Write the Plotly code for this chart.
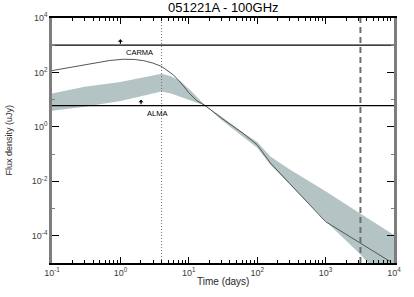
import numpy as np
import plotly.graph_objects as go

title = "051221A - 100GHz"
x_title = "Time (days)"
y_title = "Flux density (uJy)"

# model light curve (days, uJy)
model_t = [0.1, 0.2, 0.4, 0.7, 1.1, 1.6, 2.2, 3.0, 4.0, 5.0, 6.0, 7.5, 10.0, 13.0, 17.5, 30.0, 60.0, 100.0, 156.0, 300.0, 600.0, 1000.0, 3000.0, 8850.0]
model_f = [117, 160, 220, 275, 305, 300, 270, 220, 166, 115, 80, 44, 18, 9.3, 6.0, 2.1, 0.62, 0.22, 0.047, 0.0082, 0.0013, 0.00033, 0.00006, 0.0000112]

# uncertainty band
band_t = [0.1, 0.3, 1.0, 2.0, 4.0, 5.5, 7.6, 11.0, 17.5, 30.0, 60.0, 100.0, 156.0, 300.0, 1000.0, 3000.0, 10000.0]
band_hi = [17.0, 30.0, 45.0, 65.0, 90.0, 72.0, 47.0, 20.0, 6.0, 2.4, 0.65, 0.28, 0.081, 0.027, 0.0043, 0.00073, 0.000107]
band_lo = [3.9, 5.5, 9.0, 13.0, 20.0, 17.0, 13.0, 9.0, 6.0, 1.8, 0.45, 0.17, 0.041, 0.0080, 0.00035, 0.000025, 0.000001]

# instrument sensitivity limits
limit_names = ["CARMA", "ALMA"]
limit_flux = [1000.0, 6.0]
limit_arrow_t = [1.0, 2.0]

t_dotted = 4.0
t_dashed = 3230.0

x_major = [0.1, 1, 10, 100, 1000, 10000]
x_major_text = ["10<sup>-1</sup>", "10<sup>0</sup>", "10<sup>1</sup>", "10<sup>2</sup>", "10<sup>3</sup>", "10<sup>4</sup>"]
y_major = [1e4, 1e2, 1e0, 1e-2, 1e-4]
y_major_text = ["10<sup>4</sup>", "10<sup>2</sup>", "10<sup>0</sup>", "10<sup>-2</sup>", "10<sup>-4</sup>"]
y_minor = [1e3, 1e1, 1e-1, 1e-3]

FONT = "Liberation Sans, Arial, sans-serif"
BAND = "rgb(180,196,196)"
LINE = "rgb(85,85,85)"

fig = go.Figure()

fig.add_trace(go.Scatter(
    x=band_t + band_t[::-1], y=band_hi + band_lo[::-1],
    fill="toself", fillcolor=BAND, line=dict(width=0), mode="lines",
    hoverinfo="skip", showlegend=False))

fig.add_trace(go.Scatter(
    x=model_t, y=model_f, mode="lines",
    line=dict(color=LINE, width=1), showlegend=False))

for f in limit_flux:
    fig.add_trace(go.Scatter(x=[0.1, 10000], y=[f, f], mode="lines",
                             line=dict(color="black", width=1.2), showlegend=False))

fig.add_trace(go.Scatter(x=[t_dotted, t_dotted], y=[1e-5, 1e4], mode="lines",
                         line=dict(color="rgb(110,110,110)", width=1, dash="1px,2px"), showlegend=False))
fig.add_trace(go.Scatter(x=[t_dashed, t_dashed], y=[1e-5, 1e4], mode="lines",
                         line=dict(color="rgb(110,110,110)", width=2, dash="6px,4px"), showlegend=False))

annotations = []
for name, f, ta in zip(limit_names, limit_flux, limit_arrow_t):
    annotations.append(dict(x=np.log10(ta), y=np.log10(f), xref="x", yref="y",
                            showarrow=True, ax=0, ay=6, yshift=6,
                            arrowhead=1, arrowsize=0.7, arrowwidth=1.2, arrowcolor="black", text=""))
    annotations.append(dict(x=np.log10(ta), y=np.log10(f), xref="x", yref="y",
                            showarrow=False, text=name, xanchor="left", yanchor="top",
                            xshift=4, yshift=-1,
                            font=dict(family=FONT, size=7.5, color="black")))

annotations.append(dict(x=0.5, y=1, xref="paper", yref="paper", yanchor="bottom", yshift=1,
                        showarrow=False, text=title, font=dict(family=FONT, size=13, color="black")))
annotations.append(dict(x=0.5, y=0, xref="paper", yref="paper", yanchor="middle", yshift=-18,
                        showarrow=False, text=x_title, font=dict(family=FONT, size=10, color="rgb(40,40,40)")))
annotations.append(dict(x=0, y=0.5, xref="paper", yref="paper", xanchor="center", xshift=-44,
                        textangle=-90, showarrow=False, text=y_title,
                        font=dict(family=FONT, size=9, color="rgb(40,40,40)")))

fig.update_layout(
    width=414, height=297,
    margin=dict(l=52, r=20, t=18, b=34),
    paper_bgcolor="white", plot_bgcolor="white",
    font=dict(family=FONT, size=9, color="rgb(60,60,60)"),
    annotations=annotations,
    xaxis=dict(type="log", range=[-1, 4], showgrid=False, zeroline=False, automargin=False,
               showline=True, linecolor="black", linewidth=1.5, mirror="allticks",
               ticks="inside", ticklen=6, tickwidth=1, tickcolor="black",
               tickvals=x_major, ticktext=x_major_text,
               tickfont=dict(family=FONT, size=9, color="rgb(60,60,60)"),
               minor=dict(ticks="inside", ticklen=3, tickwidth=1, tickcolor="black", dtick="D1", showgrid=False)),
    yaxis=dict(type="log", range=[-5, 4], showgrid=False, zeroline=False, automargin=False,
               showline=True, linecolor="rgb(125,125,125)", linewidth=2.5, mirror="allticks",
               ticks="inside", ticklen=7, tickwidth=1, tickcolor="black",
               tickvals=y_major, ticktext=y_major_text,
               tickfont=dict(family=FONT, size=9, color="rgb(60,60,60)"),
               minor=dict(ticks="inside", ticklen=3, tickwidth=1, tickcolor="rgb(125,125,125)", tickvals=y_minor, showgrid=False)),
)

fig.write_html("out.html", config={"displayModeBar": False},
               post_script="document.body.style.margin='0px';")
